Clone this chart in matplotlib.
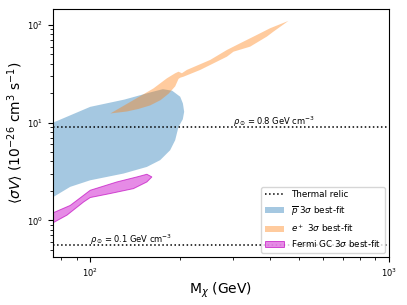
import numpy as np
import matplotlib
matplotlib.use("Agg")
import matplotlib.pyplot as plt

# antiproton 3 sigma region (mass GeV, <sigma v> 1e-26 cm^3/s), outline
pbar_m = [74, 100, 130, 160, 175, 188, 200, 204.2, 206.2, 204, 197.4,
          192.4, 185.1, 171.4, 154.7, 129.2, 102.6, 100, 85.7, 74]
pbar_sv = [9.8, 14.5, 17.2, 20.5, 22.0, 21.2, 18.4, 15.7, 12.9, 10.8, 9.05,
           6.61, 5.22, 4.13, 3.52, 3.01, 2.61, 2.57, 2.20, 1.68]

# positron 3 sigma region
pos_m = [116.7, 139.5, 162.8, 180.5, 192.4, 197.4, 202.6, 210.5, 252, 286.6,
         317.5, 360.9, 400, 460.5, 410.3, 389.9, 342.8, 301.5, 286.6, 233.3,
         205.1, 200, 197.4, 192.4, 183, 172, 158.7, 145, 132.7]
pos_sv = [12.4, 17.0, 22.4, 28.4, 32.0, 33.2, 32.0, 34.6, 43.8, 55.4,
          64.9, 78.9, 92.5, 109.9, 85.4, 75.9, 59.9, 53.2, 47.3, 34.6,
          29.5, 28.8, 28.0, 23.5, 19.8, 17.0, 15.0, 13.8, 13.0]

# Fermi GC 3 sigma region
gc_m = [74, 85.7, 100, 122.8, 143.3, 154.7, 160.8, 154.7, 139.5, 116.7,
        100, 95.0, 83.6, 74]
gc_sv = [1.17, 1.42, 2.03, 2.47, 2.78, 2.96, 2.78, 2.47, 2.11, 1.88,
         1.71, 1.54, 1.13, 0.92]

thermal_high = 9.0
thermal_low = 0.56

fig = plt.figure(figsize=(4.07, 3.05), dpi=100)
ax = fig.add_axes([0.130, 0.157, 0.826, 0.813])

ax.axhline(thermal_high, color='k', ls=':', lw=1.1, label='Thermal relic')
ax.axhline(thermal_low, color='k', ls=':', lw=1.1)

ax.fill(pbar_m, pbar_sv, color='tab:blue', alpha=0.4, lw=0,
        label=r'$\overline{p}$ 3$\sigma$ best-fit')
ax.fill(pos_m, pos_sv, color='tab:orange', alpha=0.4, lw=0,
        label=r'$e^+$ 3$\sigma$ best-fit')
ax.fill(gc_m, gc_sv, facecolor=(0.85, 0.3, 0.85), edgecolor='m', alpha=0.65, lw=0.7,
        label=r'Fermi GC 3$\sigma$ best-fit')

ax.text(300, 9.45, r'$\rho_\odot = 0.8$ GeV cm$^{-3}$', fontsize=6)
ax.text(100, 0.585, r'$\rho_\odot = 0.1$ GeV cm$^{-3}$', fontsize=6)

ax.set_xscale('log')
ax.set_yscale('log')
ax.set_xlim(75, 1000)
ax.set_ylim(0.42, 145)
ax.tick_params(labelsize=6)
ax.set_xlabel(r'M$_\chi$ (GeV)', fontsize=10, labelpad=1)
ax.set_ylabel(r'$\langle \sigma V \rangle$ (10$^{-26}$ cm$^3$ s$^{-1}$)', fontsize=10, labelpad=1)

ax.legend(loc='lower right', fontsize=6.3, handlelength=2.2)

fig.savefig('out.png', dpi=100)
